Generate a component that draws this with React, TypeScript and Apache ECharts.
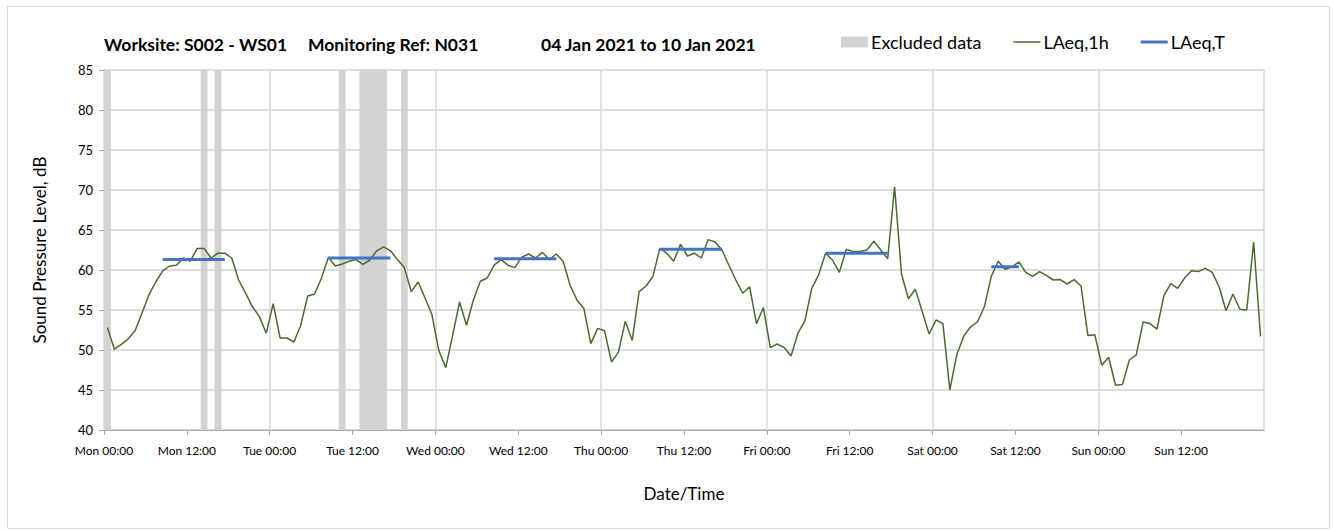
import React, { useEffect, useRef } from "react";
import * as echarts from "echarts";

const dayNames = ["Mon", "Tue", "Wed", "Thu", "Fri", "Sat", "Sun"];

// Hourly LAeq,1h values (168 hours, Mon 00:00 .. Sun 23:00)
const laeq1h = [
  52.8, 50.1, 50.7, 51.4, 52.4, 54.6, 56.9, 58.5, 59.9, 60.5, 60.6, 61.5,
  61.1, 62.7, 62.7, 61.5, 62.1, 62.1, 61.5, 58.75, 57.1, 55.4, 54.2, 52.1,
  55.8, 51.5, 51.5, 51.0, 53.1, 56.75, 57.0, 59.0, 61.6, 60.5, 60.75, 61.1,
  61.3, 60.7, 61.25, 62.4, 62.9, 62.4, 61.3, 60.3, 57.3, 58.5, 56.5, 54.4,
  49.9, 47.8, 51.9, 56.0, 53.1, 56.25, 58.6, 59.0, 60.6, 61.3, 60.6, 60.3,
  61.6, 62.0, 61.5, 62.2, 61.3, 62.0, 61.1, 58.1, 56.25, 55.2, 50.8, 52.7,
  52.4, 48.5, 49.7, 53.6, 51.2, 57.3, 58.0, 59.2, 62.7, 62.1, 61.1, 63.2,
  61.75, 62.1, 61.5, 63.8, 63.5, 62.5, 60.6, 58.75, 57.1, 57.9, 53.3, 55.3,
  50.3, 50.75, 50.3, 49.25, 52.1, 53.6, 57.7, 59.4, 62.1, 61.25, 59.7, 62.6,
  62.3, 62.3, 62.5, 63.6, 62.5, 61.4, 70.4, 59.5, 56.4, 57.6, 54.8, 52.0,
  53.75, 53.3, 45.0, 49.4, 51.7, 52.9, 53.5, 55.4, 59.2, 61.1, 60.1, 60.4,
  61.0, 59.7, 59.2, 59.8, 59.3, 58.75, 58.8, 58.25, 58.8, 58.0, 51.8, 51.9,
  48.1, 49.1, 45.6, 45.7, 48.75, 49.4, 53.5, 53.3, 52.6, 56.8, 58.3, 57.7,
  59.0, 59.9, 59.8, 60.2, 59.7, 57.9, 54.9, 57.0, 55.1, 55.0, 63.5, 51.7,
];

// LAeq,T periods: start hour, end hour (hour index), value
const periodStart = [8, 32, 56, 80, 104, 128];
const periodEnd = [17, 41, 65, 89, 113, 132];
const periodValue = [61.3, 61.5, 61.4, 62.6, 62.1, 60.4];

// Excluded data ranges (hours from Mon 00:00)
const excludedStart = [0, 14, 16, 34, 37, 43];
const excludedEnd = [1, 15, 17, 35, 41, 44];

const FONT = "Lato, 'Open Sans', sans-serif";

export default function App() {
  const ref = useRef<HTMLDivElement>(null);
  useEffect(() => {
    if (!ref.current) return;
    const chart = echarts.init(ref.current, null, { renderer: "svg" });

    const lineData = laeq1h.map((v, i) => [i + 0.5, v]);
    const periodSeries = periodValue.map((v, k) => ({
      name: "LAeq,T",
      type: "line",
      symbol: "none",
      z: 4,
      lineStyle: { color: "#4472c4", width: 3 },
      itemStyle: { color: "#4472c4" },
      data: [
        [periodStart[k] + 0.5, v],
        [periodEnd[k] + 0.5, v],
      ],
    }));

    const titleStyle = { fontSize: 17.5, fontWeight: "bold", color: "#000", fontFamily: FONT };

    const option: any = {
      animation: false,
      backgroundColor: "#ffffff",
      textStyle: { fontFamily: FONT },
      title: [
        { text: "Worksite: S002 - WS01", left: 104, top: 35, padding: 0, textStyle: titleStyle },
        { text: "Monitoring Ref: N031", left: 308, top: 35, padding: 0, textStyle: titleStyle },
        { text: "04 Jan 2021 to 10 Jan 2021", left: 541, top: 35, padding: 0, textStyle: titleStyle },
      ],
      legend: {
        left: 841,
        top: 33,
        padding: 0,
        itemGap: 32,
        itemWidth: 27,
        itemHeight: 11,
        textStyle: { fontSize: 18, color: "#000", fontFamily: FONT, padding: [0, 0, 0, -2] },
        data: [
          { name: "Excluded data", icon: "rect", itemStyle: { color: "#d3d3d3" } },
          { name: "LAeq,1h", icon: "path://M0,0h0.01v11h-0.01z M0,4.75h27v1.5h-27z" },
          { name: "LAeq,T", icon: "path://M0,0h0.01v11h-0.01z M0,4h27v3h-27z" },
        ],
      },
      grid: { left: 104, right: 70, top: 70, bottom: 100, containLabel: false },
      xAxis: [
        {
          type: "value",
          min: 0,
          max: 168,
          interval: 12,
          name: "Date/Time",
          nameLocation: "middle",
          nameGap: 55,
          nameTextStyle: { fontSize: 17, color: "#000", fontFamily: FONT },
          axisLine: { show: true, lineStyle: { color: "#a6a6a6", width: 1 } },
          axisTick: { show: true, length: 5, lineStyle: { color: "#a6a6a6" } },
          splitLine: { show: false },
          axisLabel: {
            fontSize: 12,
            color: "#000",
            margin: 14,
            fontFamily: FONT,
            showMaxLabel: false,
            formatter: (v: number) => {
              if (v >= 168) return "";
              const d = Math.floor(v / 24);
              const h = v % 24;
              return dayNames[d] + " " + (h === 0 ? "00:00" : "12:00");
            },
          },
        },
        {
          type: "value",
          min: 0,
          max: 168,
          interval: 24,
          position: "bottom",
          axisLine: { show: false },
          axisTick: { show: false },
          axisLabel: { show: false },
          splitLine: { show: true, lineStyle: { color: "#d9d9d9", width: 1.5 } },
        },
      ],
      yAxis: {
        type: "value",
        min: 40,
        max: 85,
        interval: 5,
        name: "Sound Pressure Level, dB",
        nameLocation: "middle",
        nameRotate: 90,
        nameGap: 56,
        nameTextStyle: { fontSize: 17, color: "#000", fontFamily: FONT },
        axisLine: { show: true, lineStyle: { color: "#a6a6a6", width: 1 } },
        axisTick: { show: true, length: 5, lineStyle: { color: "#a6a6a6" } },
        axisLabel: { fontSize: 13, color: "#000", margin: 11, fontFamily: FONT },
        splitLine: { show: true, lineStyle: { color: "#d0d0d0", width: 1.5 } },
      },
      graphic: [
        {
          type: "rect",
          left: 5,
          top: 4,
          shape: { width: 1322, height: 522 },
          style: { fill: "none", stroke: "#d9d9d9", lineWidth: 1 },
          silent: true,
        },
      ],
      series: [
        {
          name: "Excluded data",
          type: "line",
          symbol: "none",
          data: [],
          itemStyle: { color: "#d3d3d3" },
          markArea: {
            silent: true,
            itemStyle: { color: "#d3d3d3" },
            data: excludedStart.map((s, k) => [{ xAxis: s }, { xAxis: excludedEnd[k] }]),
          },
        },
        {
          name: "LAeq,1h",
          type: "line",
          symbol: "none",
          z: 3,
          lineStyle: { color: "#4a6b2e", width: 1.5 },
          itemStyle: { color: "#4a6b2e" },
          data: lineData,
        },
        ...periodSeries,
      ],
    };
    chart.setOption(option);
    return () => chart.dispose();
  }, []);
  return (
    <div
      ref={ref}
      style={{ position: "fixed", left: 0, top: 0, width: 1334, height: 530, background: "#fff" }}
    />
  );
}
